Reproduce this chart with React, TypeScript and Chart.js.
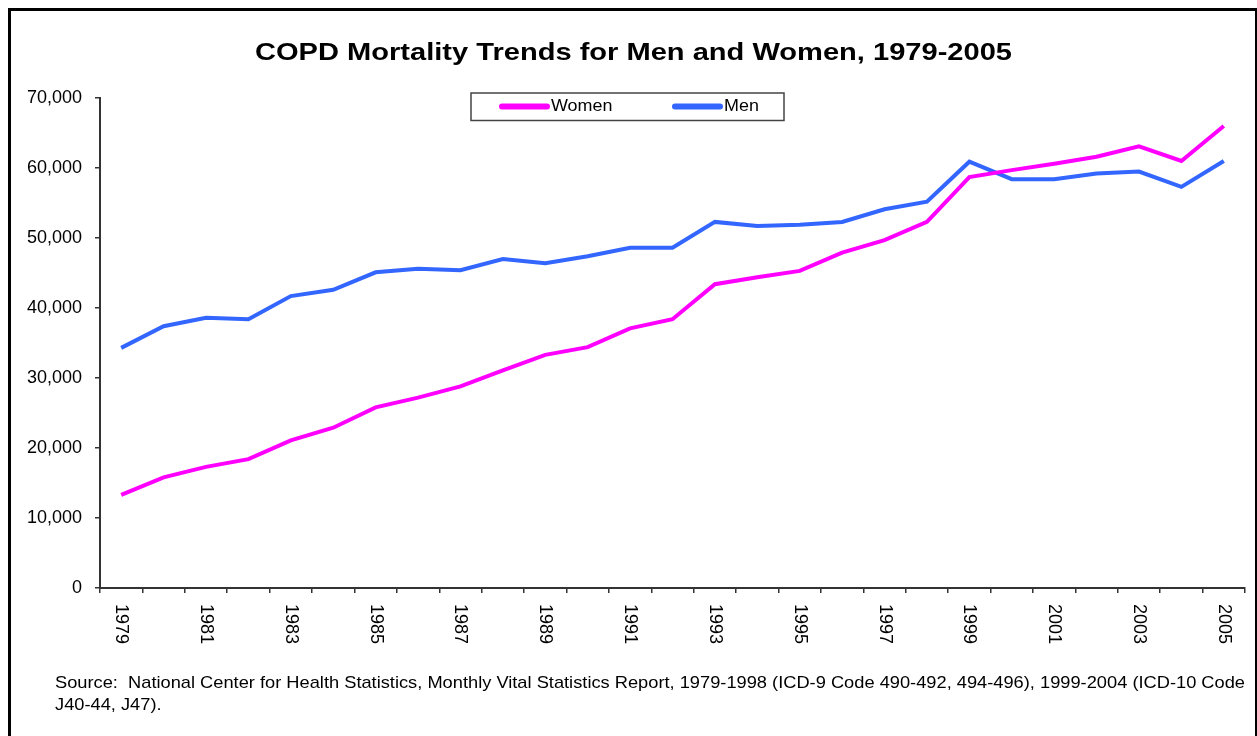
import React, { useEffect, useRef } from "react";
import { Chart, registerables } from "chart.js";

Chart.register(...registerables);

const TITLE = "COPD Mortality Trends for Men and Women, 1979-2005";
const SOURCE_LINES = [
  "Source:  National Center for Health Statistics, Monthly Vital Statistics Report, 1979-1998 (ICD-9 Code 490-492, 494-496), 1999-2004 (ICD-10 Code",
  "J40-44, J47).",
];
const YEARS = [
  "1979", "1980", "1981", "1982", "1983", "1984", "1985", "1986", "1987",
  "1988", "1989", "1990", "1991", "1992", "1993", "1994", "1995", "1996",
  "1997", "1998", "1999", "2000", "2001", "2002", "2003", "2004", "2005",
];
const WOMEN = [
  13300, 15800, 17300, 18400, 21100, 22900, 25800, 27200, 28800,
  31100, 33300, 34400, 37100, 38400, 43400, 44400, 45300, 47900,
  49700, 52300, 58700, 59700, 60600, 61600, 63100, 61000, 66000,
];
const MEN = [
  34300, 37400, 38600, 38400, 41700, 42600, 45100, 45600, 45400,
  47000, 46400, 47400, 48600, 48600, 52300, 51700, 51900, 52300,
  54100, 55200, 60900, 58400, 58400, 59200, 59500, 57300, 61000,
];
const Y_MIN = 0;
const Y_MAX = 70000;
const Y_STEP = 10000;

const WOMEN_COLOR = "#FF00FF";
const MEN_COLOR = "#3366FF";
const FONT = "Arial, 'Liberation Sans', sans-serif";

const CW = 1244;
const CH = 726;

function scaledText(
  ctx: CanvasRenderingContext2D,
  text: string,
  x: number,
  y: number,
  sx: number,
  align: CanvasTextAlign
) {
  ctx.save();
  ctx.translate(x, y);
  ctx.scale(sx, 1);
  ctx.textAlign = align;
  ctx.fillText(text, 0, 0);
  ctx.restore();
}

const decorPlugin = {
  id: "decor",
  afterDraw(chart: any) {
    const ctx: CanvasRenderingContext2D = chart.ctx;
    ctx.save();
    ctx.fillStyle = "#000";
    ctx.textBaseline = "alphabetic";

    // Title
    ctx.font = `bold 24px ${FONT}`;
    const tw = ctx.measureText(TITLE).width;
    scaledText(ctx, TITLE, 622.5, 49, 757 / tw, "center");

    // Legend box
    ctx.strokeStyle = "#444";
    ctx.lineWidth = 1.5;
    ctx.strokeRect(460, 82, 313, 27.5);
    const items = chart.data.datasets.map((d: any, i: number) => ({
      label: d.label,
      color: d.borderColor,
      x: i === 0 ? 491 : 664,
    }));
    ctx.font = `16px ${FONT}`;
    ctx.textBaseline = "middle";
    for (const it of items) {
      ctx.strokeStyle = it.color;
      ctx.lineWidth = 6;
      ctx.lineCap = "round";
      ctx.beginPath();
      ctx.moveTo(it.x, 95.5);
      ctx.lineTo(it.x + 45, 95.5);
      ctx.stroke();
      ctx.fillStyle = "#000";
      scaledText(ctx, it.label, it.x + 49, 96, 1.12, "left");
    }

    // X labels, rotated clockwise
    const xs = chart.scales.x;
    ctx.font = `18px ${FONT}`;
    ctx.textBaseline = "middle";
    ctx.textAlign = "left";
    chart.data.labels.forEach((lab: string, i: number) => {
      if (i % 2 !== 0) return;
      const x = xs.getPixelForValue(i);
      ctx.save();
      ctx.translate(x, xs.top + 16);
      ctx.rotate(Math.PI / 2);
      ctx.fillText(lab, 0, 0);
      ctx.restore();
    });

    // Source note
    ctx.font = `17px ${FONT}`;
    ctx.textBaseline = "alphabetic";
    const sw = ctx.measureText(SOURCE_LINES[0]).width;
    const ssx = 1190 / sw;
    scaledText(ctx, SOURCE_LINES[0], 44, 677, ssx, "left");
    scaledText(ctx, SOURCE_LINES[1], 44, 699, ssx, "left");
    ctx.restore();
  },
};

export default function App() {
  const ref = useRef<HTMLCanvasElement>(null);
  useEffect(() => {
    if (!ref.current) return;
    const chart = new Chart(ref.current, {
      type: "line",
      data: {
        labels: YEARS,
        datasets: [
          {
            label: "Women",
            data: WOMEN,
            borderColor: WOMEN_COLOR,
            backgroundColor: WOMEN_COLOR,
            borderWidth: 4,
            pointRadius: 0,
            tension: 0,
            fill: false,
          },
          {
            label: "Men",
            data: MEN,
            borderColor: MEN_COLOR,
            backgroundColor: MEN_COLOR,
            borderWidth: 4,
            pointRadius: 0,
            tension: 0,
            fill: false,
          },
        ],
      },
      options: {
        animation: false,
        responsive: false,
        devicePixelRatio: 1,
        layout: { padding: { top: 87, left: 0, right: 10, bottom: 109 } },
        plugins: {
          legend: { display: false },
          title: { display: false },
          tooltip: { enabled: false },
        },
        scales: {
          x: {
            type: "category",
            offset: true,
            grid: {
              offset: true,
              drawOnChartArea: false,
              drawTicks: true,
              tickLength: 5,
              color: "#333",
              lineWidth: 1.5,
            },
            border: { display: true, color: "#333", width: 2 },
            ticks: { display: false, autoSkip: false },
            afterFit: (s: any) => {
              s.height = 40;
            },
          },
          y: {
            min: Y_MIN,
            max: Y_MAX,
            grid: {
              drawOnChartArea: false,
              drawTicks: true,
              tickLength: 5,
              color: "#333",
              lineWidth: 1.5,
            },
            border: { display: true, color: "#333", width: 2 },
            ticks: {
              stepSize: Y_STEP,
              padding: 13,
              color: "#000",
              font: { family: FONT, size: 18 },
              callback: (v: any) => Number(v).toLocaleString("en-US"),
            },
            afterFit: (s: any) => {
              s.width = 89;
            },
          },
        },
      },
      plugins: [decorPlugin],
    } as any);
    return () => chart.destroy();
  }, []);

  return (
    <div
      style={{
        position: "fixed",
        left: 8,
        top: 8,
        width: 1250,
        height: 740,
        border: "3px solid #000",
        boxSizing: "border-box",
        background: "#fff",
      }}
    >
      <canvas
        ref={ref}
        width={CW}
        height={CH}
        style={{ display: "block", position: "absolute", left: 0, top: 0 }}
      />
    </div>
  );
}
